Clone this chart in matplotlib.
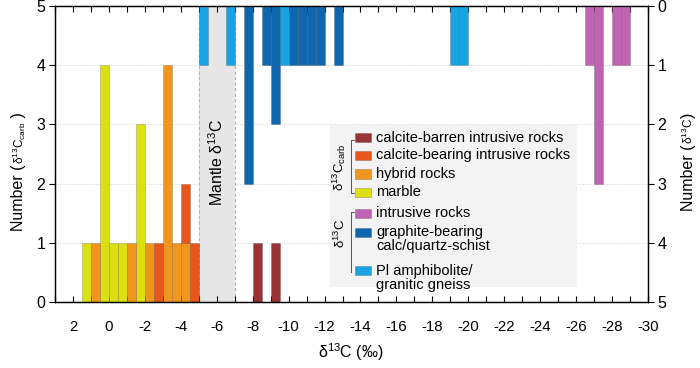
import matplotlib
matplotlib.use('Agg')
import matplotlib.pyplot as plt
from matplotlib.patches import Rectangle
from matplotlib.lines import Line2D

plt.rcParams['font.family'] = ['Liberation Sans', 'DejaVu Sans']
plt.rcParams['mathtext.fontset'] = 'custom'
plt.rcParams['mathtext.rm'] = 'Liberation Sans'
plt.rcParams['mathtext.it'] = 'Liberation Sans:italic'
plt.rcParams['mathtext.bf'] = 'Liberation Sans:bold'

# ---------------- data ----------------
bin_width = 0.5
# δ13C_carb (bars from bottom, left axis)
marble_x = [1.25, 0.25, -0.25, -0.75, -1.75]
marble_n = [1, 4, 1, 1, 3]
hybrid_x = [0.75, -1.25, -2.25, -3.25, -3.75, -4.25]
hybrid_n = [1, 1, 1, 4, 1, 1]
calc_bearing_x = [-2.75, -4.25, -4.75]
calc_bearing_n = [1, 1, 1]
calc_barren_x = [-8.25, -9.25]
calc_barren_n = [1, 1]
# δ13C (bars from top, right axis)
intrusive_x = [-26.75, -27.25, -28.25, -28.75]
intrusive_n = [1, 3, 1, 1]
graphite_x = [-7.75, -8.75, -9.25, -10.25, -10.75, -11.25, -11.75, -12.75]
graphite_n = [3, 1, 2, 1, 1, 1, 1, 1]
amph_x = [-5.25, -6.75, -9.75, -19.25, -19.75]
amph_n = [1, 1, 1, 1, 1]
mantle_range = (-5, -7)

x_ticks = list(range(2, -31, -2))
y_ticks = [0, 1, 2, 3, 4, 5]

c_barren = '#9a3333'
c_bearing = '#e8561c'
c_hybrid = '#f0961c'
c_marble = '#dde010'
c_intr = '#bf64b2'
c_graph = '#0e66ae'
c_amph = '#19a3e3'

W, H = 700, 368
fig = plt.figure(figsize=(W / 100, H / 100), dpi=100)
ax = fig.add_axes([55 / W, 1 - 302 / H, (648 - 55) / W, (302 - 6) / H])

ax.set_xlim(3, -30)
ax.set_ylim(0, 5)

# mantle band
ax.axvspan(mantle_range[0], mantle_range[1], facecolor='#e6e6e6', edgecolor='none', zorder=0.5)
for xv in mantle_range:
    ax.axvline(xv, color='#b5b5b5', lw=0.8, ls=(0, (3, 2)), zorder=0.6)
ax.text(sum(mantle_range) / 2, 2.36, r'Mantle $\mathregular{\delta^{13}C}$', rotation=90,
        ha='center', va='center', fontsize=11.5, zorder=1)

# gridlines
for yv in [1, 2, 3, 4]:
    ax.axhline(yv, color='#d4d4d4', lw=0.7, ls=(0, (1, 1.5)), zorder=0.4)

# stacked carb bars
bottoms = {}
def stack_bar(axis, xs, ns, color):
    bs = [bottoms.get(x, 0) for x in xs]
    axis.bar(xs, ns, width=bin_width, bottom=bs, color=color, edgecolor='#00000030',
             linewidth=0.6, zorder=2)
    for x, n in zip(xs, ns):
        bottoms[x] = bottoms.get(x, 0) + n

stack_bar(ax, marble_x, marble_n, c_marble)
stack_bar(ax, hybrid_x, hybrid_n, c_hybrid)
stack_bar(ax, calc_bearing_x, calc_bearing_n, c_bearing)
stack_bar(ax, calc_barren_x, calc_barren_n, c_barren)

ax.set_xticks(x_ticks)
ax.set_xticks(list(range(3, -31, -1)), minor=True)
ax.set_xticklabels([str(v) for v in x_ticks], fontsize=10.8)
ax.set_yticks(y_ticks)
ax.set_yticklabels([str(v) for v in y_ticks], fontsize=11.5)
ax.tick_params(axis='x', which='both', direction='in', top=True, length=4, width=0.8, pad=13)
ax.tick_params(axis='y', direction='out', length=4, width=0.8, pad=3)

ax2 = ax.twinx()
ax2.set_ylim(5, 0)
ax2.bar(graphite_x, graphite_n, width=bin_width, color=c_graph, edgecolor='#00000030', linewidth=0.6, zorder=2)
ax2.bar(amph_x, amph_n, width=bin_width, color=c_amph, edgecolor='#00000030', linewidth=0.6, zorder=2)
ax2.bar(intrusive_x, intrusive_n, width=bin_width, color=c_intr, edgecolor='#00000030', linewidth=0.6, zorder=2)
ax2.set_yticks(y_ticks)
ax2.set_yticklabels([str(v) for v in y_ticks], fontsize=11.5)
ax2.tick_params(axis='y', direction='out', length=4, width=0.8, pad=3)

for a in (ax, ax2):
    for s in a.spines.values():
        s.set_linewidth(0.9)

# x label
fig.text(351 / W, 1 - 352 / H, r'$\mathregular{\delta^{13}}$C (‰)', ha='center', va='center', fontsize=11.5)

def px(x, y):
    return x / W, 1 - y / H

renderer = fig.canvas.get_renderer()
def rotated_label(x_px, y_bottom_px, parts):
    y = H - y_bottom_px
    for txt, size in parts:
        t = fig.text(x_px / W, y / H, txt, rotation=90, fontsize=size, ha='center', va='bottom')
        bb = t.get_window_extent(renderer=renderer)
        y += bb.height

rotated_label(19, 231, [('Number (', 11.5), (r'$\mathregular{\delta^{13}C_{carb}}$', 8.5), (' )', 11.5)])
rotated_label(688, 211, [('Number (', 11.5), (r'$\mathregular{\delta^{13}C}$', 8.5), (')', 11.5)])

# legend
fig.patches.append(Rectangle(px(330, 287), (577 - 330) / W, (287 - 125) / H,
                             transform=fig.transFigure, facecolor='#f3f3f3', edgecolor='none', zorder=3))
leg_entries = [
    (c_barren, 'calcite-barren intrusive rocks', 137.5),
    (c_bearing, 'calcite-bearing intrusive rocks', 155.5),
    (c_hybrid, 'hybrid rocks', 174),
    (c_marble, 'marble', 192.5),
    (c_intr, 'intrusive rocks', 213),
    (c_graph, 'graphite-bearing\ncalc/quartz-schist', 232),
    (c_amph, 'Pl amphibolite/\ngranitic gneiss', 270.5),
]
for col, lab, yc in leg_entries:
    fig.patches.append(Rectangle(px(354.5, yc + 4.5), 16.5 / W, 9 / H, transform=fig.transFigure,
                                 facecolor=col, edgecolor='#00000040', linewidth=0.5, zorder=4))
    for i, line in enumerate(lab.split('\n')):
        fig.text(376.5 / W, 1 - (yc + i * 14.0) / H, line, ha='left', va='center', fontsize=10.5,
                 zorder=5)

brk = '#555555'
for (y0, y1, ticks) in [(140, 193, (True, True)), (212, 272, (True, False))]:
    fig.lines.append(Line2D([351 / W, 351 / W], [1 - y0 / H, 1 - y1 / H], transform=fig.transFigure,
                            color=brk, lw=0.7, zorder=5))
    if ticks[0]:
        fig.lines.append(Line2D([351 / W, 354 / W], [1 - y0 / H, 1 - y0 / H], transform=fig.transFigure,
                                color=brk, lw=0.7, zorder=5))
    if ticks[1]:
        fig.lines.append(Line2D([351 / W, 354 / W], [1 - y1 / H, 1 - y1 / H], transform=fig.transFigure,
                                color=brk, lw=0.7, zorder=5))
fig.text(339 / W, 1 - 167 / H, r'$\mathregular{\delta^{13}C_{carb}}$', rotation=90, ha='center',
         va='center', fontsize=9.5, zorder=5)
fig.text(340 / W, 1 - 233 / H, r'$\mathregular{\delta^{13}C}$', rotation=90, ha='center',
         va='center', fontsize=9.5, zorder=5)

fig.savefig('out.png', dpi=100)
